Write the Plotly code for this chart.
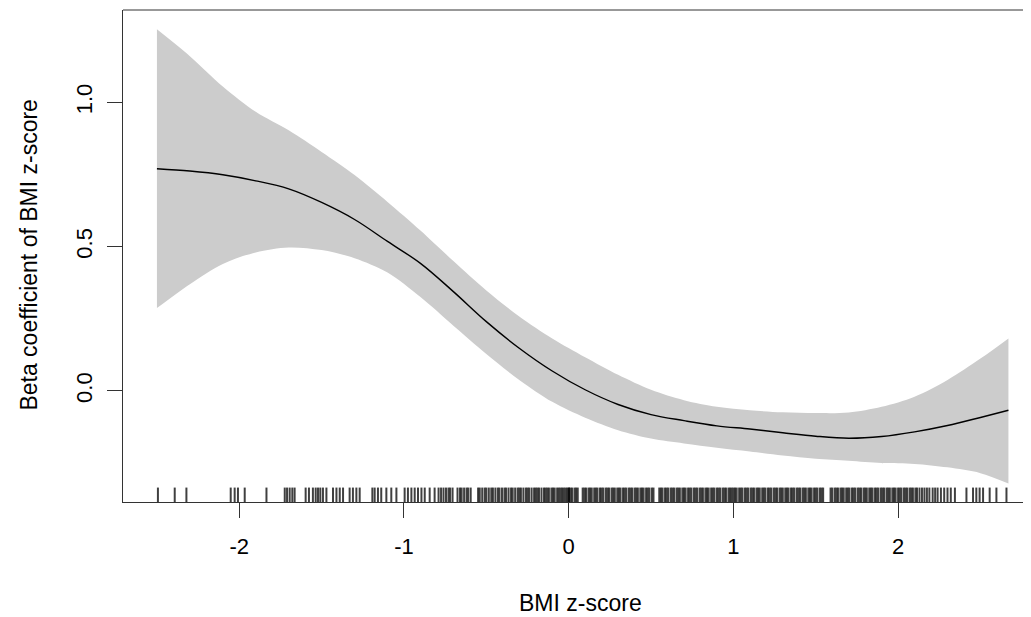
import plotly.graph_objects as go

# ---- data ----
bmi_z = [-2.5, -2.3, -2.1, -1.9, -1.7, -1.5, -1.3, -1.1, -0.9, -0.7, -0.5, -0.3, -0.1,
         0.1, 0.3, 0.5, 0.7, 0.9, 1.1, 1.3, 1.5, 1.7, 1.9, 2.1, 2.3, 2.5, 2.67]
beta_fit = [0.770, 0.762, 0.749, 0.728, 0.700, 0.653, 0.594, 0.518, 0.442, 0.344, 0.240, 0.148, 0.069,
            0.004, -0.047, -0.082, -0.103, -0.121, -0.132, -0.145, -0.157, -0.164, -0.158, -0.142,
            -0.120, -0.092, -0.067]
beta_upper = [1.253, 1.160, 1.055, 0.967, 0.903, 0.828, 0.748, 0.655, 0.556, 0.450, 0.348, 0.258, 0.182,
              0.117, 0.056, 0.004, -0.032, -0.055, -0.067, -0.074, -0.077, -0.075, -0.055, -0.020,
              0.038, 0.112, 0.182]
beta_lower = [0.287, 0.370, 0.440, 0.480, 0.497, 0.488, 0.460, 0.410, 0.325, 0.226, 0.128, 0.038, -0.038,
              -0.093, -0.136, -0.165, -0.182, -0.197, -0.210, -0.224, -0.235, -0.242, -0.250, -0.253,
              -0.265, -0.285, -0.321]

rug_left = [-2.494, -2.392, -2.321, -2.052, -2.028, -2.008, -1.967, -1.835, -1.724, -1.710, -1.694,
            -1.678, -1.664, -1.597, -1.577, -1.553, -1.536, -1.522, -1.508, -1.492, -1.471, -1.431,
            -1.410, -1.390, -1.370, -1.330, -1.310, -1.289, -1.269, -1.192, -1.178, -1.158, -1.138,
            -1.107, -1.077, -1.046, -0.996, -0.976, -0.955, -0.935, -0.915, -0.894, -0.874, -0.844, -0.814]
rug_mid = [-0.79, -0.775, -0.76, -0.745, -0.73, -0.72, -0.705,
           -0.675, -0.66, -0.65, -0.635, -0.62, -0.61, -0.595,
           -0.55, -0.54, -0.525, -0.51, -0.50, -0.485, -0.47, -0.46, -0.445, -0.43, -0.42, -0.405,
           -0.39, -0.38, -0.365, -0.35, -0.34, -0.325, -0.31, -0.30, -0.29, -0.275, -0.26, -0.25,
           -0.24, -0.225, -0.21, -0.20, -0.19, -0.18, -0.165, -0.15, -0.14, -0.13, -0.12, -0.105,
           -0.095, -0.085, -0.07, -0.06, -0.05, -0.04, -0.03, -0.02, -0.01, 0.0, 0.002, 0.01, 0.02,
           0.035, 0.045, 0.055, 0.085, 0.095, 0.105, 0.12, 0.13, 0.14, 0.155, 0.165, 0.175, 0.19,
           0.2, 0.21, 0.225, 0.235, 0.245, 0.26, 0.27, 0.28, 0.295, 0.305, 0.315, 0.33, 0.34, 0.35,
           0.365, 0.375, 0.385, 0.40, 0.41, 0.42, 0.435, 0.445, 0.455, 0.47, 0.48, 0.49, 0.505, 0.515,
           0.55, 0.56, 0.57, 0.585, 0.595, 0.605, 0.62, 0.63, 0.64, 0.655, 0.665, 0.675, 0.69, 0.70,
           0.71, 0.725, 0.735, 0.745, 0.76, 0.77, 0.78, 0.795, 0.805, 0.815, 0.83, 0.84, 0.85, 0.865,
           0.875, 0.885, 0.90, 0.91, 0.92, 0.935, 0.945, 0.955, 0.97, 0.98, 0.99, 1.0, 1.01, 1.02,
           1.035, 1.045, 1.055, 1.07, 1.08, 1.09, 1.105, 1.115, 1.125, 1.14, 1.15, 1.16, 1.175, 1.185,
           1.195, 1.21, 1.22, 1.23, 1.245, 1.255, 1.265, 1.28, 1.29, 1.30, 1.315, 1.325, 1.335, 1.35,
           1.36, 1.37, 1.385, 1.395, 1.405, 1.42, 1.43, 1.44, 1.455, 1.465, 1.475, 1.49, 1.50, 1.51,
           1.525, 1.535, 1.545, 1.59, 1.60, 1.615, 1.625, 1.635, 1.65, 1.66, 1.67, 1.685, 1.695,
           1.705, 1.72, 1.73, 1.74, 1.755, 1.765, 1.775, 1.79, 1.80, 1.81, 1.825, 1.835, 1.845, 1.86,
           1.87, 1.88, 1.895, 1.905, 1.915, 1.93, 1.94, 1.95, 1.965, 1.975, 1.985, 2.0, 2.01, 2.02,
           2.035, 2.045, 2.055, 2.07, 2.08, 2.09, 2.105, 2.115, 2.13, 2.145, 2.16, 2.175, 2.19, 2.21,
           2.225, 2.24, 2.26, 2.28, 2.30, 2.32, 2.345]
rug_right = [2.415, 2.455, 2.475, 2.495, 2.516, 2.556, 2.597, 2.658]
rug_values = rug_left + rug_mid + rug_right

x_ticks = [-2, -1, 0, 1, 2]
y_ticks = [0.0, 0.5, 1.0]
y_tick_labels = ["0.0", "0.5", "1.0"]

X_RANGE = [-2.706, 2.807]
Y_RANGE = [-0.385, 1.320]
RUG_LEN = 0.05  # in y data units

FONT = "Liberation Sans, Arial, Helvetica, sans-serif"

fig = go.Figure()

# confidence band: lower edge, then upper edge filled down to it
fig.add_trace(go.Scatter(
    x=bmi_z, y=beta_lower, mode="lines",
    line=dict(width=0, color="#CCCCCC", shape="spline", smoothing=0.9),
    hoverinfo="skip", showlegend=False))
fig.add_trace(go.Scatter(
    x=bmi_z, y=beta_upper, mode="lines", fill="tonexty", fillcolor="#CCCCCC",
    line=dict(width=0, color="#CCCCCC", shape="spline", smoothing=0.9),
    hoverinfo="skip", showlegend=False))

# fitted line
fig.add_trace(go.Scatter(
    x=bmi_z, y=beta_fit, mode="lines", line=dict(color="black", width=1.4, shape="spline"),
    showlegend=False))

# rug
rx, ry = [], []
for v in rug_values:
    rx += [v, v, None]
    ry += [Y_RANGE[0], Y_RANGE[0] + RUG_LEN, None]
fig.add_trace(go.Scatter(x=rx, y=ry, mode="lines",
                         line=dict(color="rgba(0,0,0,0.75)", width=2),
                         hoverinfo="skip", showlegend=False))

axis_common = dict(showgrid=False, zeroline=False, showline=True, linecolor="#333333",
                   linewidth=1, ticks="outside", ticklen=15, tickcolor="#333333",
                   tickfont=dict(family=FONT, size=22, color="black"))

fig.update_xaxes(range=X_RANGE, tickvals=x_ticks, ticktext=[str(t) for t in x_ticks],
                 ticklabelstandoff=10, **axis_common)
fig.update_yaxes(range=Y_RANGE, tickvals=y_ticks, ticktext=y_tick_labels, tickangle=-90,
                 ticklabelstandoff=6, **axis_common)

# top border
fig.add_shape(type="line", xref="paper", yref="paper", x0=0, x1=1, y0=1, y1=1,
              line=dict(color="#333333", width=1))

fig.add_annotation(text="BMI z-score", xref="paper", yref="paper", x=0.504, y=-0.206,
                   showarrow=False, font=dict(family=FONT, size=23, color="black"),
                   xanchor="center", yanchor="middle")
fig.add_annotation(text="Beta coefficient of BMI z-score", xref="paper", yref="paper",
                   x=-0.104, y=0.502, textangle=-90, showarrow=False,
                   font=dict(family=FONT, size=23, color="black"),
                   xanchor="center", yanchor="middle")

# page body adds ~8px offset; compensate so plot box lands where the reference has it
fig.update_layout(width=1023, height=609, margin=dict(l=115, r=0, t=2, b=115),
                  plot_bgcolor="white", paper_bgcolor="white")

fig.write_html("out.html")
